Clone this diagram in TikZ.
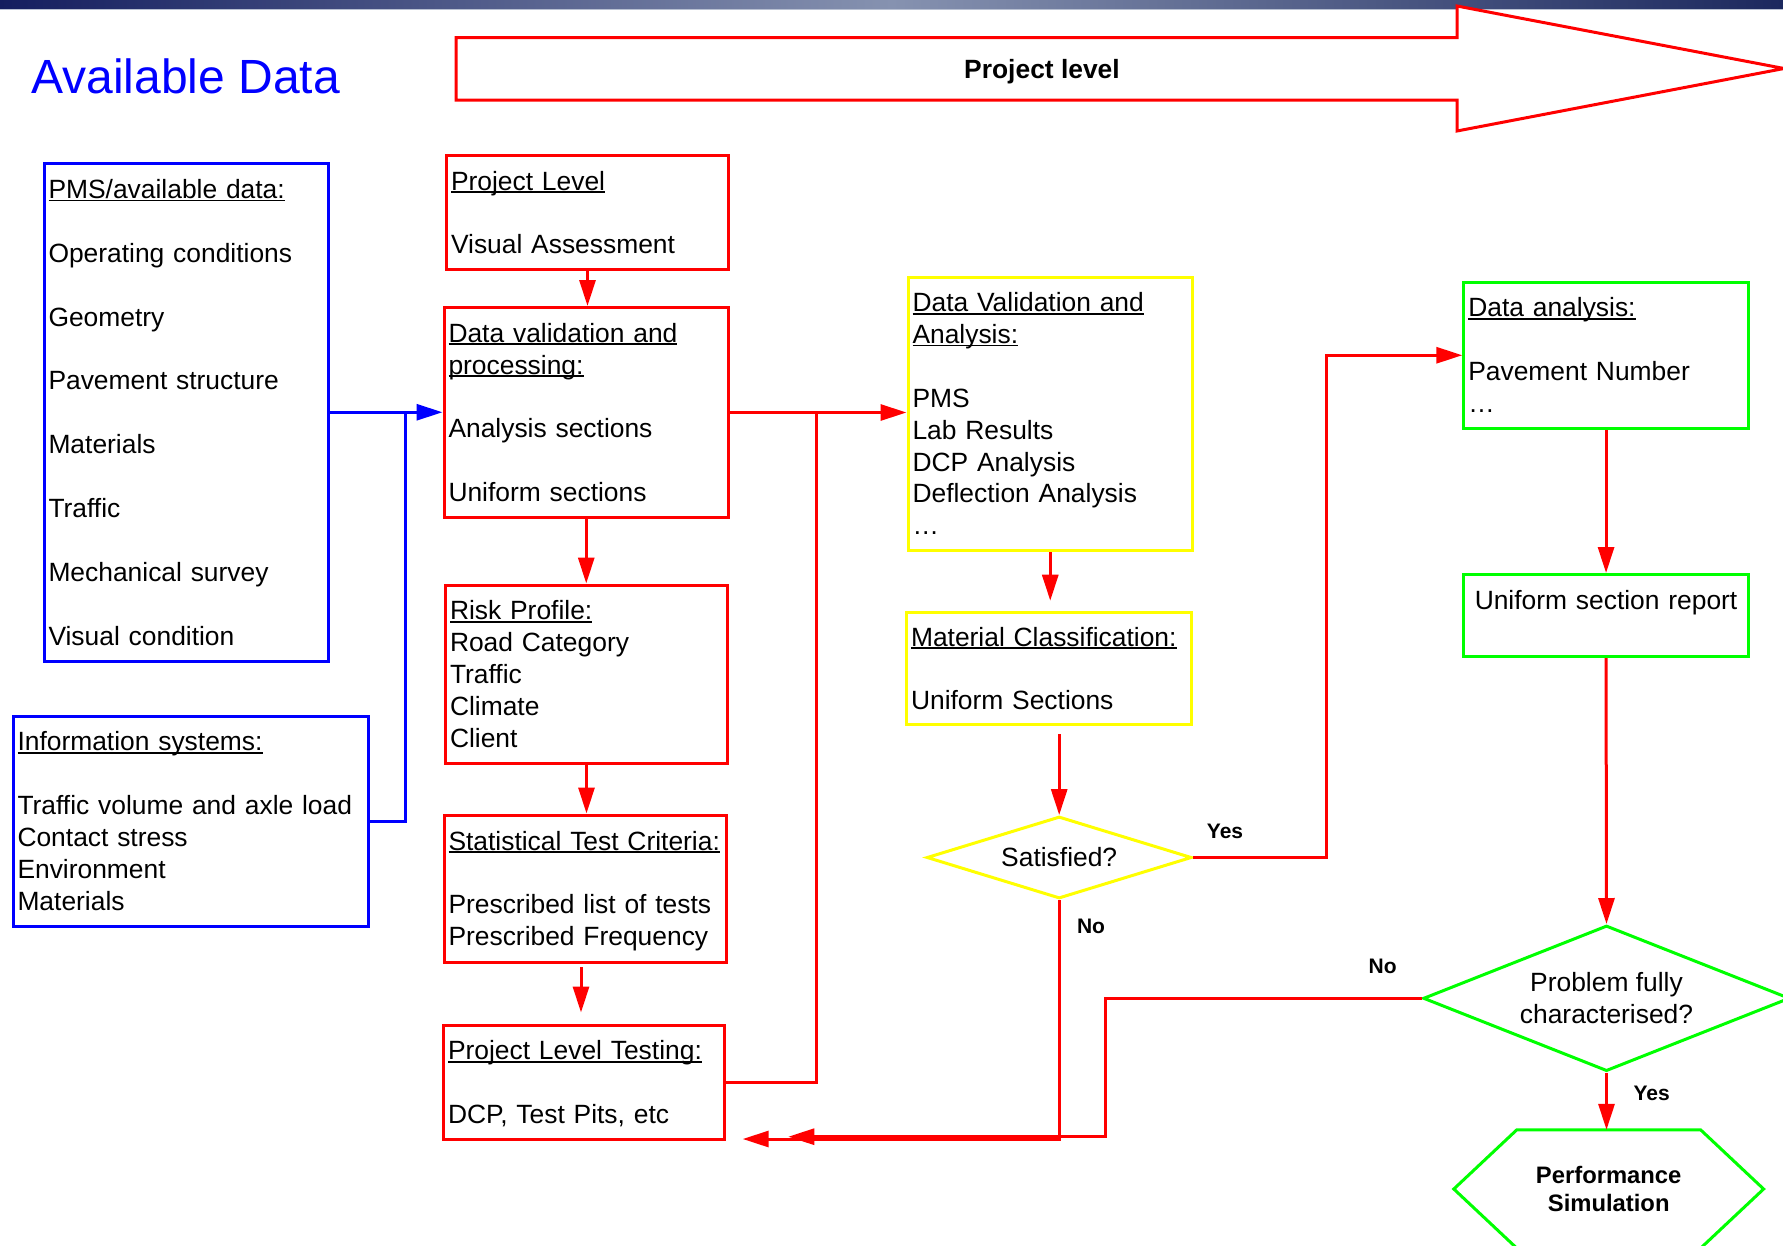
\documentclass[tikz,border=0pt]{standalone}
\usepackage{fontspec}
\setmainfont{Liberation Sans}
\usetikzlibrary{arrows.meta,shapes.geometric}
\definecolor{boxblue}{RGB}{0,0,255}
\definecolor{boxred}{RGB}{255,0,0}
\definecolor{boxyellow}{RGB}{255,255,0}
\definecolor{boxgreen}{RGB}{0,255,0}
\definecolor{barnavy}{RGB}{20,30,95}
\definecolor{barend}{RGB}{28,40,94}
\definecolor{barlight}{RGB}{134,146,176}
\definecolor{barrule}{RGB}{184,192,210}
\newsavebox{\hdrbox}
\newcommand{\hdr}[1]{\leavevmode\sbox\hdrbox{#1}\rlap{\rule[-3pt]{\wd\hdrbox}{1.8pt}}\usebox\hdrbox}
\newcommand{\linestrut}{\rule[-6.5pt]{0pt}{31.9pt}}
\tikzset{%
  textbox/.style   = {shape=rectangle, draw, line width=3pt, anchor=north west,%
                      align=left, inner xsep=4.5pt, inner ysep=2pt,%
                      execute at begin node=\linestrut,%
                      execute at end node=\linestrut},%
  pmsbox/.style    = {textbox, draw=boxblue},%
  testbox/.style   = {textbox, draw=boxred},%
  labbox/.style    = {textbox, draw=boxyellow},%
  reportbox/.style = {textbox, draw=boxgreen},%
  decision/.style  = {diamond, draw, line width=3pt, inner sep=0pt, align=center},%
  flow/.style      = {draw=boxred, line width=3pt},%
  flowarrow/.style = {flow, -{Triangle[length=26pt,width=16pt]}},%
  feed/.style      = {draw=boxblue, line width=3pt},%
  answer/.style    = {font=\fontsize{21}{25}\selectfont\bfseries}%
}
\begin{document}
\begin{tikzpicture}[x=1pt,y=-1pt,
	every node/.style={font=\fontsize{26.4}{31.9}\selectfont}]
\fill[white] (0,0) rectangle (1783,1245);
\useasboundingbox (0,0) rectangle (1783,1245);
\fill[left color=barnavy, right color=barend, middle color=barlight] (0,0) rectangle (1783,8.7);
\draw[barrule, line width=1pt] (0,9.2) -- (1783,9.2);
\begin{scope}
	\node[text=boxblue, font=\fontsize{48}{56}\selectfont] (avail) at (185.5,76) {Available Data};
	\draw[draw=boxred, fill=white, line width=3pt] (456,37.5) -- (1457,37.5) -- (1457,6)
		-- (1784,68.5) -- (1457,131) -- (1457,100) -- (456,100) -- cycle;
	\node[font=\fontsize{26.4}{31.9}\selectfont\bfseries] (projlvl) at (1042,72) {Project level};
\end{scope}
\begin{scope}
	\node[pmsbox, text width=275pt, minimum height=497.5pt] (pms) at (42.5,162)
		{\hdr{PMS/available data:}\\~\\Operating conditions\\~\\Geometry\\~\\Pavement structure\\~\\Materials\\~\\Traffic\\~\\Mechanical survey\\~\\Visual condition};
	\node[pmsbox, text width=346pt, minimum height=209.5pt] (info) at (11.5,715)
		{\hdr{Information systems:}\\~\\Traffic volume and axle load\\Contact stress\\Environment\\Materials};
\end{scope}
\begin{scope}
	\node[testbox, text width=273pt, minimum height=114pt] (proj) at (445,154)
		{\hdr{Project Level}\\~\\Visual Assessment};
	\node[testbox, text width=275.5pt, minimum height=210pt] (datval) at (442.5,306)
		{\hdr{Data validation and}\\\hdr{processing:}\\~\\Analysis sections\\~\\Uniform sections};
	\node[testbox, text width=273pt, minimum height=178pt] (risk) at (444,583.5)
		{\hdr{Risk Profile:}\\Road Category\\Traffic\\Climate\\Client};
	\node[testbox, text width=273pt, minimum height=147pt] (stat) at (442.5,813.5)
		{\hdr{Statistical Test Criteria:}\\~\\Prescribed list of tests\\Prescribed Frequency};
	\node[testbox, text width=272pt, minimum height=114pt] (plt) at (442,1023.5)
		{\hdr{Project Level Testing:}\\~\\DCP, Test Pits, etc};
\end{scope}
\begin{scope}
	\node[labbox, text width=275.5pt, minimum height=273.5pt] (dva) at (906.5,275.5)
		{\hdr{Data Validation and}\\\hdr{Analysis:}\\~\\PMS\\Lab Results\\DCP Analysis\\Deflection Analysis\\…};
	\node[labbox, text width=275.5pt, minimum height=112.5pt] (matcl) at (905,610.7)
		{\hdr{Material Classification:}\\~\\Uniform Sections};
	\node[decision, draw=boxyellow, minimum width=265pt, minimum height=82pt, aspect=3.2] (sat)
		at (1059.2,857.5) {Satisfied?};
\end{scope}
\begin{scope}
	\node[reportbox, text width=275.5pt, minimum height=145.5pt] (da) at (1462.3,281)
		{\hdr{Data analysis:}\\~\\Pavement Number\\…};
	\node[reportbox, align=center, text width=275.5pt, minimum height=82pt] (usr) at (1462.3,573)
		{Uniform section report\\};
	\node[decision, draw=boxgreen, minimum width=366.6pt, minimum height=145.6pt, aspect=2.5] (prob)
		at (1606.5,998.3) {Problem fully\\characterised?};
	\node[font=\fontsize{23.8}{28.4}\selectfont\bfseries, align=center, inner sep=0pt,
		minimum width=309.4pt, minimum height=118pt] (perf) at (1608.7,1189) {Performance\\Simulation};
	\draw[draw=boxgreen, line width=3pt] (perf.west) -- ([xshift=63pt]perf.north west)
		-- ([xshift=-63pt]perf.north east) -- (perf.east) -- ([xshift=-63pt]perf.south east)
		-- ([xshift=63pt]perf.south west) -- cycle;
\end{scope}
\coordinate (bj) at (405.7,410.75);
\coordinate (rj) at (816.7,411);
\coordinate (tipA) at (742.7,1139);
\coordinate (nb) at (1105,1136.7);
\coordinate (tipB) at (788.3,1136.7);
\draw[feed, -{Triangle[length=26pt,width=16pt]}] (pms.east) -- (pms.east -| datval.west);
\draw[feed] (info.east) -| (bj);
\draw[flowarrow] (proj.south) -- (proj.south |- datval.north);
\draw[flowarrow] (datval.south) -- (datval.south |- risk.north);
\draw[flowarrow] (risk.south) -- (risk.south |- stat.north);
\draw[flowarrow, shorten <=3.5pt, shorten >=11pt] ([xshift=-4pt]stat.south) -- ([xshift=-4pt]stat.south |- plt.north);
\draw[flowarrow] (datval.east) -- (datval.east -| dva.west);
\draw[flow] (plt.east) -| (rj);
\draw[flowarrow, shorten >=10pt] (dva.south) -- (dva.south |- matcl.north);
\draw[flowarrow, shorten <=8pt] (sat.north |- matcl.south) -- (sat.north);
\draw[flowarrow] (sat.east) -| ([xshift=-135.6pt]da.west) -- (da.west);
\draw[flowarrow] (sat.south) |- (tipA);
\draw[flowarrow] (da.south) -- (usr.north);
\draw[flowarrow] (usr.south) -- (prob.north);
\draw[flowarrow] (prob.west) -| (nb) -- (tipB);
\draw[flowarrow] (prob.south) -- (prob.south |- perf.north);
\node[answer] (satyes) at (1225,831.7) {Yes};
\node[answer] (satno) at (1091,926.3) {No};
\node[answer] (probno) at (1382.7,966.6) {No};
\node[answer] (probyes) at (1651.7,1093.3) {Yes};
\end{tikzpicture}
\end{document}
